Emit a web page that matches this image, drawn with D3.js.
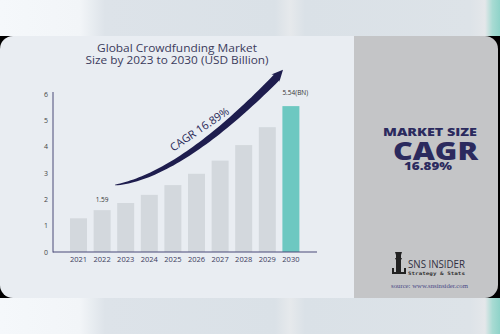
<!DOCTYPE html>
<html><head><meta charset="utf-8">
<script src="https://cdn.jsdelivr.net/npm/d3@7"></script>
<style>html,body{margin:0;padding:0;background:#dbe2e8;}svg{display:block;}</style>
</head><body>
<script>
const years = ["2021","2022","2023","2024","2025","2026","2027","2028","2029","2030"];
const values = [1.28, 1.59, 1.86, 2.17, 2.54, 2.97, 3.47, 4.06, 4.74, 5.54];
const yTicks = [0, 1, 2, 3, 4, 5, 6];
const titleLines = ["Global Crowdfunding Market", "Size by 2023 to 2030 (USD Billion)"];
const cagrLabel = "CAGR 16.89%";
const panelLines = ["MARKET SIZE", "CAGR", "16.89%"];

const W = 500, H = 334;
const svg = d3.select("body").append("svg").attr("width", W).attr("height", H);
const defs = svg.append("defs");
const g = defs.append("linearGradient").attr("id","bg").attr("x1","0").attr("x2","1").attr("y1","0").attr("y2","0");
[[0,"#f5f8fb"],[0.16,"#f2f5f8"],[0.21,"#dde3e9"],[0.55,"#dae1e7"],[0.58,"#e6e9ec"],[0.61,"#dae1e7"],[0.94,"#dde3e8"],[0.97,"#e4e7ea"],[0.985,"#a8dbd3"],[1,"#8fd3c9"]]
  .forEach(([o,c]) => g.append("stop").attr("offset",o).attr("stop-color",c));
svg.append("rect").attr("width",W).attr("height",H).attr("fill","url(#bg)");

const cardTop = 36, cardBot = 298, split = 354, R = 13;
svg.append("rect").attr("x",0).attr("y",cardTop).attr("width",W).attr("height",cardBot-cardTop).attr("fill","#000");
svg.append("rect").attr("x",0).attr("y",cardTop).attr("width",split+20).attr("height",cardBot-cardTop).attr("rx",R).attr("fill","#e9edf2");
svg.append("rect").attr("x",split).attr("y",cardTop).attr("width",W-split-2).attr("height",cardBot-cardTop).attr("rx",R).attr("fill","#c4c5c7");
svg.append("rect").attr("x",split).attr("y",cardTop).attr("width",20).attr("height",cardBot-cardTop).attr("fill","#c4c5c7");

// scales
const x = d3.scaleBand().domain(years).range([66.7, 302.7]).paddingInner(0.28).paddingOuter(0.14);
const y = d3.scaleLinear().domain([0, 6]).range([252, 94]);

// title
const tl = [[51.5,160],[63.5,183]];
svg.append("g").selectAll("text").data(titleLines).join("text")
  .attr("x",177).attr("y",(d,i)=>tl[i][0]).attr("text-anchor","middle")
  .attr("textLength",(d,i)=>tl[i][1]).attr("lengthAdjust","spacingAndGlyphs")
  .attr("font-family","'Open Sans', sans-serif").attr("font-size",10.5).attr("font-weight",500).attr("fill","#3b3b5c")
  .text(d=>d);

// bars
svg.append("g").selectAll("rect").data(values).join("rect")
  .attr("x",(d,i)=>x(years[i])).attr("width",x.bandwidth())
  .attr("y",d=>y(d)).attr("height",d=>y(0)-y(d))
  .attr("fill",(d,i)=>i===years.length-1?"#6dc8c1":"#d3d8dd");

// axes
const yAxis = svg.append("g").attr("transform","translate(53,0)")
  .call(d3.axisLeft(y).tickValues(yTicks).tickSize(0).tickPadding(5).tickFormat(d3.format("d")));
yAxis.select(".domain").attr("stroke","#4a4a78").attr("stroke-width",1).attr("d","M0,92V252.5");
yAxis.selectAll("text").attr("font-family","'Open Sans', sans-serif").attr("font-size",7).attr("fill","#444");

const xAxis = svg.append("g").attr("transform","translate(0,252)")
  .call(d3.axisBottom(x).tickSize(0).tickPadding(5));
xAxis.select(".domain").attr("stroke","#4a4a78").attr("stroke-width",1.2).attr("d","M53,0H317");
xAxis.selectAll("text").attr("font-family","'Open Sans', sans-serif").attr("font-size",7.5).attr("fill","#3b3b5c");

// value labels
svg.append("text").attr("x",x(years[1])+x.bandwidth()/2).attr("y",y(values[1])-8).attr("text-anchor","middle")
  .attr("font-family","'Open Sans', sans-serif").attr("font-size",6.5).attr("fill","#333").text(values[1].toFixed(2));
svg.append("text").attr("x",x(years[9])).attr("y",y(values[9])-11).attr("text-anchor","start")
  .attr("font-family","'Open Sans', sans-serif").attr("font-size",6.5).attr("fill","#333").text(values[9].toFixed(2)+"(BN)");

// arrow swoosh
const P0=[115,185], C=[180,175], P2=[276,77];
function bez(t){const a=(1-t)*(1-t),b=2*(1-t)*t,c=t*t;return [a*P0[0]+b*C[0]+c*P2[0], a*P0[1]+b*C[1]+c*P2[1]];}
function der(t){return [2*(1-t)*(C[0]-P0[0])+2*t*(P2[0]-C[0]), 2*(1-t)*(C[1]-P0[1])+2*t*(P2[1]-C[1])];}
const upper=[], lower=[];
const N=50;
for(let i=0;i<=N;i++){const t=i/N;const p=bez(t), d=der(t);const L=Math.hypot(d[0],d[1]);const nx=-d[1]/L, ny=d[0]/L;
  const w=0.3+3.6*Math.pow(t,0.6);
  upper.push([p[0]-nx*w*0.8,p[1]-ny*w*0.8]); lower.push([p[0]+nx*w*1.2,p[1]+ny*w*1.2]);}
const end=bez(1), dE=der(1), LE=Math.hypot(dE[0],dE[1]); const ux=dE[0]/LE, uy=dE[1]/LE, nx=-uy, ny=ux;
const tip=[end[0]+ux*10,end[1]+uy*10];
const headL=[end[0]-nx*5-ux*1.5,end[1]-ny*5-uy*1.5], headR=[end[0]+nx*6-ux*1.5,end[1]+ny*6-uy*1.5];
const pts=[...upper, headL, tip, headR, ...lower.reverse()];
svg.append("path").attr("d", d3.line()(pts)+"Z").attr("fill","#1e1d4e");

svg.append("text").attr("transform","translate(200,130) rotate(-34)").attr("text-anchor","middle")
  .attr("dominant-baseline","middle")
  .attr("font-family","'Open Sans', sans-serif").attr("font-size",11).attr("fill","#2a2958").text(cagrLabel);

// right panel text
const pl = [[383,136,10.5,94],[393,160,25,85],[404,170,10.5,48]];
svg.append("g").selectAll("text").data(panelLines).join("text")
  .attr("x",(d,i)=>pl[i][0]).attr("y",(d,i)=>pl[i][1]).attr("font-size",(d,i)=>pl[i][2])
  .attr("textLength",(d,i)=>pl[i][3]).attr("lengthAdjust","spacingAndGlyphs")
  .attr("font-family","'Open Sans', sans-serif").attr("font-weight",800).attr("fill","#2b2a5e").text(d=>d);

// logo
const lg = svg.append("g");
lg.append("path").attr("d","M395,252h7l-1,3h-5zM396,255h5v3h-5zM395,258h7l-1,2h-5zM396,260h5v12h-5zM393,272h11v2h-11zM392,268h2v6h-2zM404,268h2v6h-2z").attr("fill","#222");
lg.append("text").attr("x",408).attr("y",268).attr("textLength",57).attr("lengthAdjust","spacingAndGlyphs").attr("font-family","'Open Sans', sans-serif").attr("font-size",10.5).attr("fill","#2f2f3f").text("SNS INSIDER");
lg.append("text").attr("x",408).attr("y",275).attr("textLength",57).attr("lengthAdjust","spacingAndGlyphs").attr("font-family","'DejaVu Sans Mono', monospace").attr("font-size",4.6).attr("font-weight",700).attr("fill","#333").text("Strategy & Stats");
svg.append("text").attr("x",391).attr("y",288).attr("textLength",77).attr("lengthAdjust","spacingAndGlyphs").attr("font-family","'Liberation Serif', serif").attr("font-size",7).attr("fill","#4a4a86").text("source: www.snsinsider.com");
</script>
</body></html>
